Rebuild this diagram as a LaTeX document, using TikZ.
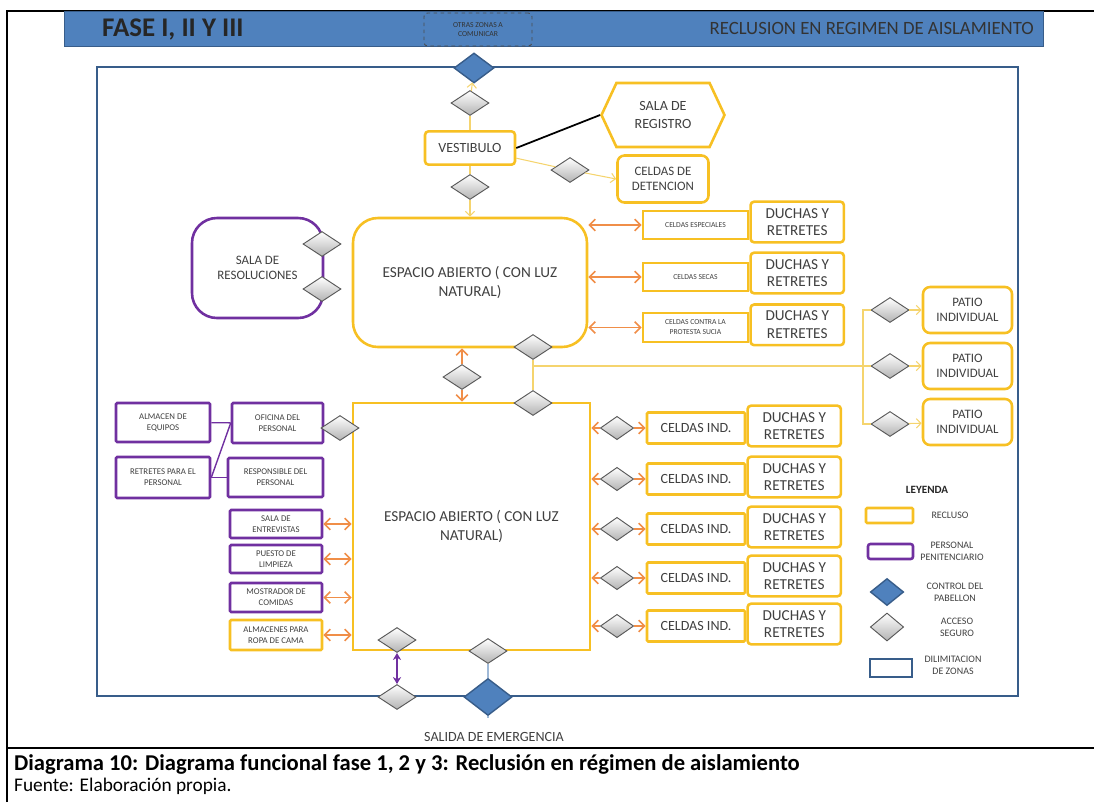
\documentclass[tikz,border=0pt]{standalone}
\usepackage{fontspec}
\setmainfont{Carlito}
\usetikzlibrary{shapes.geometric,shapes.symbols,positioning,arrows.meta,calc}

\definecolor{ylw}{RGB}{247,192,35}
\definecolor{ylwthin}{RGB}{245,212,110}
\definecolor{prp}{RGB}{112,48,160}
\definecolor{org}{RGB}{240,142,72}
\definecolor{bluefill}{RGB}{79,129,189}
\definecolor{blueline}{RGB}{56,93,138}
\definecolor{lightblue}{RGB}{160,185,215}
\definecolor{txt}{RGB}{64,64,64}

\tikzset{
    fs/.style 2 args={font=\fontsize{#1}{#2}\selectfont},
    yellowbox/.style={
        rectangle,
        rounded corners=3pt,
        draw=ylw,
        line width=2.2pt,
        fill=white,
        align=center,
        text=txt,
        inner sep=1pt
    },
    purplebox/.style={
        yellowbox,
        draw=prp,
        rounded corners=1pt
    },
    duchas/.style={
        yellowbox,
        minimum width=2.8cm,
        minimum height=1.22cm,
        fs={13}{15}
    },
    access/.style={
        diamond,
        draw=black!65,
        line width=0.8pt,
        top color=white,
        bottom color=gray!60,
        inner sep=0pt,
        minimum width=1.14cm,
        minimum height=0.75cm
    },
    control/.style={
        diamond,
        draw=blueline,
        line width=1.2pt,
        fill=bluefill,
        inner sep=0pt,
        minimum width=1.2cm,
        minimum height=0.9cm
    },
    thinlink/.style={
        draw=ylwthin,
        line width=0.9pt
    },
    thinarrow/.style={
        thinlink,
        -{Straight Barb[length=4pt,width=8pt]}
    },
    oarrow/.style={
        draw=org,
        line width=1.4pt,
        {Straight Barb[length=5pt,width=10pt]}-{Straight Barb[length=5pt,width=10pt]}
    },
    oone/.style={
        draw=org,
        line width=1.4pt,
        -{Straight Barb[length=5pt,width=10pt]}
    }
}

\begin{document}
\begin{tikzpicture}[x=0.03cm, y=-0.03cm]
    \useasboundingbox (0,0) rectangle (1094,802);

    % Page frame and header band
    \draw[line width=1.3pt] (7,802) -- (7,11) -- (1094,11);
    \draw[line width=1.3pt] (7,748) -- (1094,748);
    \draw[blueline, fill=bluefill, line width=0.6pt] (64,11) rectangle (1043,46);
    \node (fase) [anchor=west, fs={23}{26}, text=black!85] at (98,29) {\textbf{FASE I, II Y III}};
    \node (otras) [draw=black!70, dashed, rounded corners=3pt, line width=0.8pt, minimum width=3.24cm, minimum height=0.99cm, align=center, inner sep=1pt, fs={6.5}{8}, text=black!80] at (478,29.5) {OTRAS ZONAS A\\COMUNICAR};
    \node (titulo) [anchor=east, fs={16}{18}, text=black!80] at (1038,28) {RECLUSION EN REGIMEN DE AISLAMIENTO};

    % Zone limit
    \draw[blueline, line width=2.4pt] (97,67) rectangle (1018,696);

    % Entrance
    \node (topctl) [control] at (474,68) {};
    \node (acc1) [access] at (470,103) {};
    \node (vest) [yellowbox, minimum width=2.7cm, minimum height=1.0cm, fs={12}{14}] at (470,148) {VESTIBULO};
    \node (registro) [signal, signal to=west and east, signal pointer angle=130, draw=ylw, line width=2.2pt, fill=white, align=center, text=txt, minimum width=3.69cm, minimum height=1.92cm, fs={12}{15}] at (663,115) {SALA DE\\REGISTRO};
    \node (acc2) [access] at (470,187) {};
    \node (acc3) [access] at (570,170) {};
    \node (deten) [yellowbox, rounded corners=6pt, minimum width=2.73cm, minimum height=1.41cm, fs={11}{13}] at (663,179) {CELDAS DE\\DETENCION};

    % Upper open space
    \node (esp1) [yellowbox, rounded corners=0.75cm, minimum width=7.02cm, minimum height=3.87cm, fs={13}{16}] at (470,282.5) {ESPACIO ABIERTO ( CON LUZ\\NATURAL)};
    \node (resol) [purplebox, rounded corners=0.75cm, minimum width=3.93cm, minimum height=3.0cm, fs={11}{13}] at (257.5,268) {SALA DE\\RESOLUCIONES};
    \node (accR1) [access] at (322,244) {};
    \node (accR2) [access] at (322,289) {};

    \node (cesp) [yellowbox, rounded corners=0pt, minimum width=3.15cm, minimum height=0.84cm, fs={6.5}{8}] at (695.5,225) {CELDAS ESPECIALES};
    \node (du1) [duchas, right=0pt of cesp, yshift=0.09cm] {DUCHAS Y\\RETRETES};
    \node (csec) [yellowbox, rounded corners=0pt, minimum width=3.15cm, minimum height=0.84cm, fs={6.5}{8}] at (695.5,277) {CELDAS SECAS};
    \node (du2) [duchas, right=0pt of csec, yshift=0.12cm] {DUCHAS Y\\RETRETES};
    \node (cpro) [yellowbox, rounded corners=0pt, minimum width=3.15cm, minimum height=0.87cm, fs={6.5}{8.5}] at (695.5,327.5) {CELDAS CONTRA LA\\PROTESTA SUCIA};
    \node (du3) [duchas, right=0pt of cpro, yshift=0.08cm] {DUCHAS Y\\RETRETES};

    % Yards
    \node (patio1) [yellowbox, rounded corners=6pt, minimum width=2.67cm, minimum height=1.38cm, fs={11}{13}] at (967.5,310) {PATIO\\INDIVIDUAL};
    \node (patio2) [yellowbox, rounded corners=6pt, minimum width=2.67cm, minimum height=1.38cm, fs={11}{13}] at (967.5,366) {PATIO\\INDIVIDUAL};
    \node (patio3) [yellowbox, rounded corners=6pt, minimum width=2.67cm, minimum height=1.38cm, fs={11}{13}] at (967.5,422) {PATIO\\INDIVIDUAL};
    \node (pd1) [access] at (890,310) {};
    \node (pd2) [access] at (890,366) {};
    \node (pd3) [access] at (890,424) {};

    % Lower open space
    \node (esp2) [yellowbox, rounded corners=0pt, minimum width=7.11cm, minimum height=7.41cm, fs={13}{16}] at (471.5,526.5) {ESPACIO ABIERTO ( CON LUZ\\NATURAL)};
    \node (accA) [access] at (533,347) {};
    \node (accB) [access] at (533,403) {};
    \node (accM) [access] at (462,377) {};

    \node (ci1) [yellowbox, rounded corners=1pt, minimum width=2.94cm, minimum height=0.93cm, fs={12}{14}] at (696,428) {CELDAS IND.};
    \node (du4) [duchas, right=0pt of ci1, yshift=0.06cm] {DUCHAS Y\\RETRETES};
    \node (ci2) [yellowbox, rounded corners=1pt, minimum width=2.94cm, minimum height=0.93cm, fs={12}{14}] at (696,479) {CELDAS IND.};
    \node (du5) [duchas, right=0pt of ci2, yshift=0.06cm] {DUCHAS Y\\RETRETES};
    \node (ci3) [yellowbox, rounded corners=1pt, minimum width=2.94cm, minimum height=0.93cm, fs={12}{14}] at (696,529) {CELDAS IND.};
    \node (du6) [duchas, right=0pt of ci3, yshift=0.06cm] {DUCHAS Y\\RETRETES};
    \node (ci4) [yellowbox, rounded corners=1pt, minimum width=2.94cm, minimum height=0.93cm, fs={12}{14}] at (696,578) {CELDAS IND.};
    \node (du7) [duchas, right=0pt of ci4, yshift=0.06cm] {DUCHAS Y\\RETRETES};
    \node (ci5) [yellowbox, rounded corners=1pt, minimum width=2.94cm, minimum height=0.93cm, fs={12}{14}] at (696,626) {CELDAS IND.};
    \node (du8) [duchas, right=0pt of ci5, yshift=0.06cm] {DUCHAS Y\\RETRETES};
    \node (dr1) [access, minimum width=1.0cm, minimum height=0.7cm] at (617,428) {};
    \node (dr2) [access, minimum width=1.0cm, minimum height=0.7cm] at (617,479) {};
    \node (dr3) [access, minimum width=1.0cm, minimum height=0.7cm] at (617,529) {};
    \node (dr4) [access, minimum width=1.0cm, minimum height=0.7cm] at (617,578) {};
    \node (dr5) [access, minimum width=1.0cm, minimum height=0.7cm] at (617,626) {};

    % Staff rooms
    \node (alm) [purplebox, minimum width=2.82cm, minimum height=1.17cm, fs={7.5}{9.5}] at (163,422.5) {ALMACEN DE\\EQUIPOS};
    \node (ofi) [purplebox, minimum width=2.73cm, minimum height=1.2cm, fs={7.5}{9.5}] at (277.5,423) {OFICINA DEL\\PERSONAL};
    \node (ret) [purplebox, minimum width=2.82cm, minimum height=1.23cm, fs={7.5}{9.5}] at (163,477.5) {RETRETES PARA EL\\PERSONAL};
    \node (resp) [purplebox, minimum width=2.85cm, minimum height=1.17cm, fs={7.5}{9.5}] at (275.5,477.5) {RESPONSIBLE DEL\\PERSONAL};
    \node (entr) [purplebox, minimum width=2.76cm, minimum height=0.84cm, fs={7.5}{9.5}] at (276,524) {SALA DE\\ENTREVISTAS};
    \node (limp) [purplebox, minimum width=2.76cm, minimum height=0.84cm, fs={7.5}{9.5}] at (276,559) {PUESTO DE\\LIMPIEZA};
    \node (comi) [purplebox, minimum width=2.76cm, minimum height=0.87cm, fs={7.5}{9.5}] at (276,597.5) {MOSTRADOR DE\\COMIDAS};
    \node (ropa) [yellowbox, rounded corners=1pt, minimum width=2.76cm, minimum height=0.9cm, fs={7.5}{9.5}] at (276,635) {ALMACENES PARA\\ROPA DE CAMA};
    \node (accO) [access] at (340,428) {};

    % Emergency exit
    \node (accL1) [access] at (397,640) {};
    \node (accL2) [access] at (397,697) {};
    \node (accE) [access] at (488,651) {};
    \node (botctl) [control, minimum width=1.44cm, minimum height=1.11cm] at (488,697) {};
    \coordinate (salidaend) at (488,718);
    \node (salida) [fs={12}{14}, text=txt] at (494,737) {SALIDA DE EMERGENCIA};

    % Connectors
    \draw[thinlink] (vest) -- (acc1);
    \draw[thinarrow] (acc1) -- (topctl);
    \draw[thinlink] (vest) -- (acc2);
    \draw[thinarrow] (acc2) -- (esp1);
    \draw[line width=1.5pt] (vest.east) -- (registro.west);
    \draw[thinlink] (vest) -- (acc3);
    \draw[thinarrow] (acc3) -- (deten.west);

    \draw[oarrow] (esp1.east |- cesp) -- (cesp.west);
    \draw[oarrow] (esp1.east |- csec) -- (csec.west);
    \draw[oarrow] (esp1.east |- cpro) -- (cpro.west);

    \draw[oone] (accM.north) -- (accM |- esp1.south);
    \draw[oone] (accM.south) -- (accM |- esp2.north);

    \coordinate (jn) at (accA |- pd2);
    \coordinate (br) at (863,366);
    \draw[thinlink] (accA) -- (accB);
    \draw[thinlink] (jn) -- (pd2);
    \draw[thinlink] (pd1) -| (br) |- (pd3);
    \draw[thinarrow] (pd1) -- (patio1);
    \draw[thinarrow] (pd2) -- (patio2);
    \draw[thinarrow] (pd3) -- (patio3);

    \draw[oone] (dr1.west) -- (esp2.east |- dr1);
    \draw[oone] (dr1.east) -- (ci1.west);
    \draw[oone] (dr2.west) -- (esp2.east |- dr2);
    \draw[oone] (dr2.east) -- (ci2.west);
    \draw[oone] (dr3.west) -- (esp2.east |- dr3);
    \draw[oone] (dr3.east) -- (ci3.west);
    \draw[oone] (dr4.west) -- (esp2.east |- dr4);
    \draw[oone] (dr4.east) -- (ci4.west);
    \draw[oone] (dr5.west) -- (esp2.east |- dr5);
    \draw[oone] (dr5.east) -- (ci5.west);

    \draw[prp, line width=1.2pt] (alm) -- (ofi);
    \draw[prp, line width=1.2pt] (ret.east) -- (ofi.west);
    \draw[prp, line width=1.2pt] (ret) -- (resp);

    \draw[oarrow] (entr.east) -- (entr.east -| esp2.west);
    \draw[oarrow] (limp.east) -- (limp.east -| esp2.west);
    \draw[oarrow] (comi.east) -- (comi.east -| esp2.west);
    \draw[oarrow] (ropa.east) -- (ropa.east -| esp2.west);

    \draw[prp, line width=1.6pt, {Stealth[length=6pt,width=7pt]}-{Stealth[length=6pt,width=7pt]}] (accL1) -- (accL2);
    \draw[lightblue, line width=0.9pt] (accE) -- (botctl);
    \draw[lightblue, line width=0.9pt] (botctl) -- (salidaend);

    % Legend
    \node (leyenda) [fs={9.5}{11}, text=black!85] at (927,490) {\textbf{LEYENDA}};
    \node (lg1) [yellowbox, rounded corners=1pt, minimum width=1.41cm, minimum height=0.45cm] at (889.5,515.5) {};
    \node (lt1) [fs={8.5}{10}, text=txt] at (950,515) {RECLUSO};
    \node (lg2) [purplebox, rounded corners=2pt, minimum width=1.35cm, minimum height=0.45cm] at (890.5,551.5) {};
    \node (lt2) [fs={8.5}{10}, text=txt, align=center] at (952,551) {PERSONAL\\PENITENCIARIO};
    \node (lg3) [control, minimum width=1.0cm, minimum height=0.81cm] at (887,592) {};
    \node (lt3) [fs={8.5}{10}, text=txt, align=center] at (955,592) {CONTROL DEL\\PABELLON};
    \node (lg4) [access, minimum width=1.0cm, minimum height=0.84cm] at (887,627) {};
    \node (lt4) [fs={8.5}{10}, text=txt, align=center] at (957,627) {ACCESO\\SEGURO};
    \node (lg5) [draw=blueline, line width=2pt, fill=white, minimum width=1.26cm, minimum height=0.54cm] at (891,668) {};
    \node (lt5) [fs={8.5}{10}, text=txt, align=center] at (953,665) {DILIMITACION\\DE ZONAS};

    % Caption
    \node (caption) [anchor=west, fs={19.3}{22}] at (10,764) {\textbf{Diagrama 10: Diagrama funcional fase 1, 2 y 3: Reclusión en régimen de aislamiento}};
    \node (fuente) [anchor=west, fs={16.5}{19}] at (10,786) {Fuente: Elaboración propia.};
\end{tikzpicture}
\end{document}
